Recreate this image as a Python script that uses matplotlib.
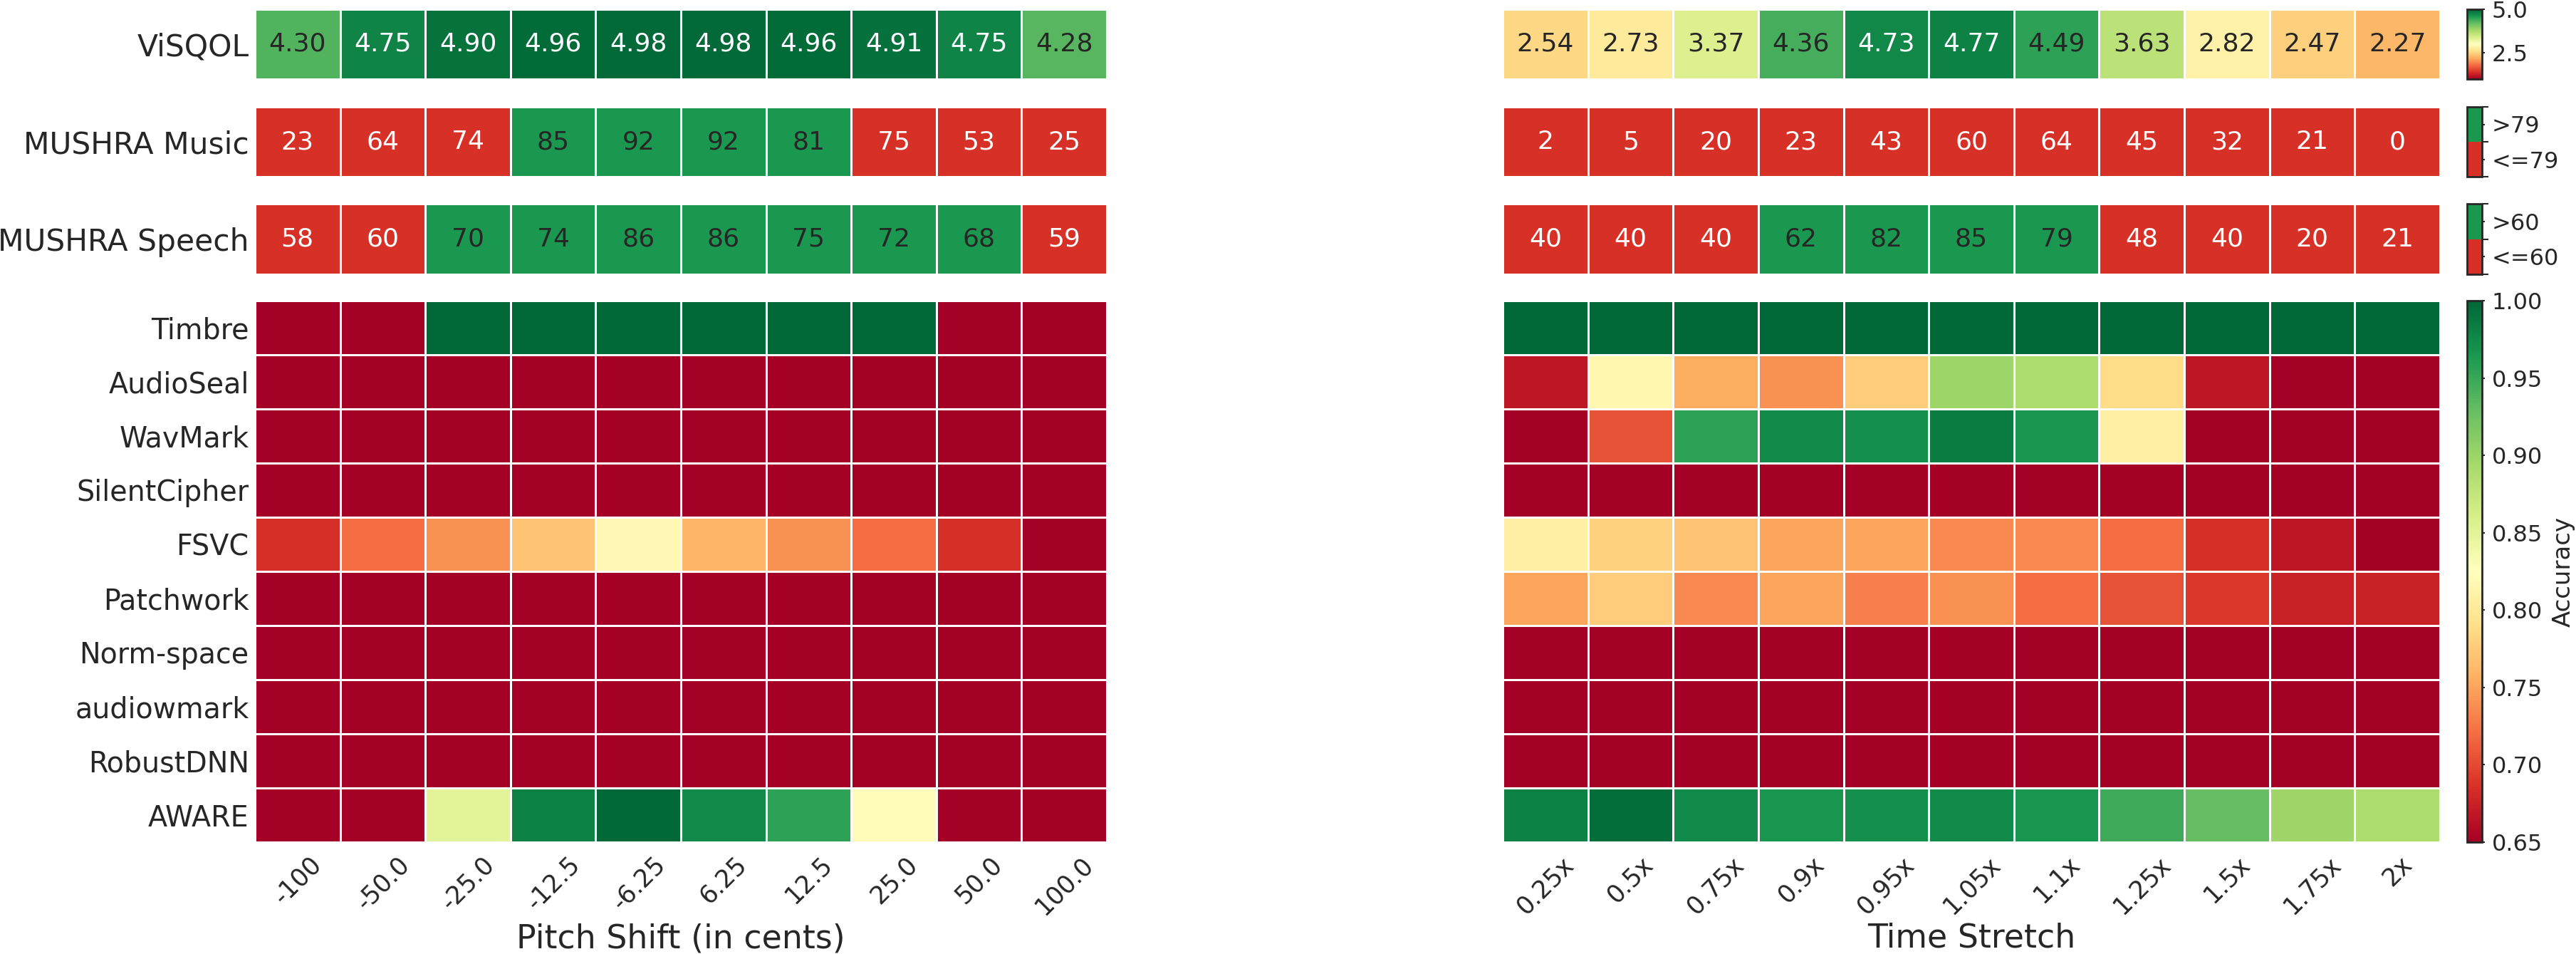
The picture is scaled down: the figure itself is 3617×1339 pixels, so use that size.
import numpy as np
import matplotlib
matplotlib.use('Agg')
import matplotlib.pyplot as plt
from matplotlib.colors import ListedColormap, Normalize
from matplotlib.cm import ScalarMappable

pitch_labels = ['-100', '-50.0', '-25.0', '-12.5', '-6.25', '6.25', '12.5', '25.0', '50.0', '100.0']
stretch_labels = ['0.25x', '0.5x', '0.75x', '0.9x', '0.95x', '1.05x', '1.1x', '1.25x', '1.5x', '1.75x', '2x']
methods = ['Timbre', 'AudioSeal', 'WavMark', 'SilentCipher', 'FSVC', 'Patchwork',
           'Norm-space', 'audiowmark', 'RobustDNN', 'AWARE']

visqol_pitch = [4.30, 4.75, 4.90, 4.96, 4.98, 4.98, 4.96, 4.91, 4.75, 4.28]
visqol_stretch = [2.54, 2.73, 3.37, 4.36, 4.73, 4.77, 4.49, 3.63, 2.82, 2.47, 2.27]
music_pitch = [23, 64, 74, 85, 92, 92, 81, 75, 53, 25]
music_stretch = [2, 5, 20, 23, 43, 60, 64, 45, 32, 21, 0]
speech_pitch = [58, 60, 70, 74, 86, 86, 75, 72, 68, 59]
speech_stretch = [40, 40, 40, 62, 82, 85, 79, 48, 40, 20, 21]
music_thresh = 79
speech_thresh = 60

# accuracy, rows = methods
acc_pitch = [
    [0.50, 0.50, 1.00, 1.00, 1.00, 1.00, 1.00, 1.00, 0.50, 0.50],
    [0.50, 0.50, 0.50, 0.50, 0.50, 0.50, 0.50, 0.50, 0.50, 0.50],
    [0.50, 0.50, 0.50, 0.50, 0.50, 0.50, 0.50, 0.50, 0.50, 0.50],
    [0.50, 0.50, 0.50, 0.50, 0.50, 0.50, 0.50, 0.50, 0.50, 0.50],
    [0.685, 0.72, 0.74, 0.77, 0.818, 0.76, 0.74, 0.72, 0.685, 0.60],
    [0.50, 0.50, 0.50, 0.50, 0.50, 0.50, 0.50, 0.50, 0.50, 0.50],
    [0.50, 0.50, 0.50, 0.50, 0.50, 0.50, 0.50, 0.50, 0.50, 0.50],
    [0.50, 0.50, 0.50, 0.50, 0.50, 0.50, 0.50, 0.50, 0.50, 0.50],
    [0.50, 0.50, 0.50, 0.50, 0.50, 0.50, 0.50, 0.50, 0.50, 0.50],
    [0.50, 0.50, 0.85, 0.98, 1.00, 0.975, 0.955, 0.82, 0.50, 0.50],
]
acc_stretch = [
    [1.00, 1.00, 1.00, 1.00, 1.00, 1.00, 1.00, 1.00, 1.00, 1.00, 1.00],
    [0.667, 0.815, 0.755, 0.74, 0.777, 0.90, 0.89, 0.787, 0.667, 0.60, 0.60],
    [0.60, 0.706, 0.955, 0.975, 0.97, 0.985, 0.965, 0.808, 0.60, 0.60, 0.60],
    [0.50, 0.50, 0.50, 0.50, 0.50, 0.50, 0.50, 0.50, 0.50, 0.50, 0.50],
    [0.808, 0.78, 0.77, 0.75, 0.75, 0.735, 0.735, 0.72, 0.685, 0.667, 0.60],
    [0.75, 0.777, 0.735, 0.75, 0.73, 0.74, 0.72, 0.705, 0.69, 0.675, 0.675],
    [0.50, 0.50, 0.50, 0.50, 0.50, 0.50, 0.50, 0.50, 0.50, 0.50, 0.50],
    [0.50, 0.50, 0.50, 0.50, 0.50, 0.50, 0.50, 0.50, 0.50, 0.50, 0.50],
    [0.50, 0.50, 0.50, 0.50, 0.50, 0.50, 0.50, 0.50, 0.50, 0.50, 0.50],
    [0.98, 0.995, 0.975, 0.965, 0.97, 0.975, 0.965, 0.947, 0.93, 0.898, 0.89],
]

TXT = '#262626'
plt.rcParams['text.color'] = TXT
plt.rcParams['xtick.color'] = TXT
plt.rcParams['ytick.color'] = TXT
plt.rcParams['axes.labelcolor'] = TXT

W, H = 3617, 1339
fig = plt.figure(figsize=(W / 100, H / 100), dpi=100)


def rect(x0, y0, x1, y1):
    return [x0 / W, 1 - y1 / H, (x1 - x0) / W, (y1 - y0) / H]


def heat(r, data, cmap, norm):
    data = np.atleast_2d(np.array(data, dtype=float))
    ax = fig.add_axes(r)
    ax.pcolormesh(data, cmap=cmap, norm=norm, edgecolors='white', linewidth=1.0)
    ax.set_xlim(0, data.shape[1])
    ax.set_ylim(data.shape[0], 0)
    for s in ax.spines.values():
        s.set_visible(False)
    ax.set_xticks([])
    ax.set_yticks([])
    ax.tick_params(length=0)
    return ax


def annotate(ax, vals, fmt, white):
    for i, v in enumerate(vals):
        ax.text(i + 0.5, 0.5, fmt.format(v), ha='center', va='center',
                fontsize=26, color='white' if white(v) else TXT)


def cbar_box(cb):
    cb.outline.set_linewidth(2)
    cb.outline.set_edgecolor(TXT)


Lx = (358, 1554)
Rx = (2110, 3426)
Cx = (3464, 3485)
rows_y = [(13, 111), (150, 248), (286, 385)]
main_y = (422, 1182)

acc_cmap = plt.get_cmap('RdYlGn')
acc_norm = Normalize(0.65, 1.0)
vis_norm = Normalize(1.0, 5.0)
bin_cmap = ListedColormap(['#d73027', '#1a9850'])
bin_norm = Normalize(0, 1)

# ViSQOL row
ax = heat(rect(Lx[0], rows_y[0][0], Lx[1], rows_y[0][1]), [visqol_pitch], acc_cmap, vis_norm)
annotate(ax, visqol_pitch, '{:.2f}', lambda v: v > 4.6)
ax.set_yticks([0.5], ['ViSQOL'], fontsize=30.5)
ax.tick_params(axis='y', pad=6)
ax = heat(rect(Rx[0], rows_y[0][0], Rx[1], rows_y[0][1]), [visqol_stretch], acc_cmap, vis_norm)
annotate(ax, visqol_stretch, '{:.2f}', lambda v: v > 4.6)
cax = fig.add_axes(rect(Cx[0], rows_y[0][0], Cx[1], rows_y[0][1]))
cb = fig.colorbar(ScalarMappable(vis_norm, acc_cmap), cax=cax)
cb.set_ticks([2.5, 5.0], labels=['2.5', '5.0'])
cb.ax.tick_params(labelsize=23, length=3, width=1.5, pad=7)
cbar_box(cb)

# MUSHRA rows
for k, (name, lv, rv, th) in enumerate([
        ('MUSHRA Music', music_pitch, music_stretch, music_thresh),
        ('MUSHRA Speech', speech_pitch, speech_stretch, speech_thresh)]):
    y0, y1 = rows_y[k + 1]
    for xr, vals, lab in [(Lx, lv, True), (Rx, rv, False)]:
        cls = (np.array(vals) > th).astype(float)
        ax = heat(rect(xr[0], y0, xr[1], y1), [cls], bin_cmap, bin_norm)
        annotate(ax, vals, '{}', lambda v, th=th: v <= th)
        if lab:
            ax.set_yticks([0.5], [name], fontsize=30.5)
            ax.tick_params(axis='y', pad=6)
    cax = fig.add_axes(rect(Cx[0], y0, Cx[1], y1))
    cb = fig.colorbar(ScalarMappable(bin_norm, bin_cmap), cax=cax)
    cb.set_ticks([0, 0.5, 1], labels=['', '', ''])
    cb.set_ticks([0.25, 0.75], labels=['<=%d' % th, '>%d' % th], minor=True)
    cb.ax.tick_params(which='major', length=6.5, width=1.5)
    cb.ax.tick_params(which='minor', labelsize=23, length=3, width=1.5, pad=7)
    cbar_box(cb)

# accuracy heatmaps
ax = heat(rect(Lx[0], main_y[0], Lx[1], main_y[1]), acc_pitch, acc_cmap, acc_norm)
ax.set_yticks(np.arange(len(methods)) + 0.5, methods, fontsize=28.5)
ax.set_xticks(np.arange(len(pitch_labels)) + 0.5, pitch_labels, fontsize=25, rotation=45)
ax.tick_params(axis='y', pad=6)
ax.tick_params(axis='x', pad=10)
ax.set_xlabel('Pitch Shift (in cents)', fontsize=33, labelpad=4)

ax = heat(rect(Rx[0], main_y[0], Rx[1], main_y[1]), acc_stretch, acc_cmap, acc_norm)
ax.set_xticks(np.arange(len(stretch_labels)) + 0.5, stretch_labels, fontsize=25, rotation=45)
ax.tick_params(axis='x', pad=10)
ax.set_xlabel('Time Stretch', fontsize=33, labelpad=4)

cax = fig.add_axes(rect(Cx[0], main_y[0], Cx[1], main_y[1]))
cb = fig.colorbar(ScalarMappable(acc_norm, acc_cmap), cax=cax)
ticks = [0.65, 0.70, 0.75, 0.80, 0.85, 0.90, 0.95, 1.00]
cb.set_ticks(ticks, labels=['%.2f' % t for t in ticks])
cb.ax.tick_params(labelsize=23, length=3, width=1.5, pad=7)
cb.set_label('Accuracy', fontsize=24.5, labelpad=9)
cbar_box(cb)

fig.savefig('out.png', dpi=100)
